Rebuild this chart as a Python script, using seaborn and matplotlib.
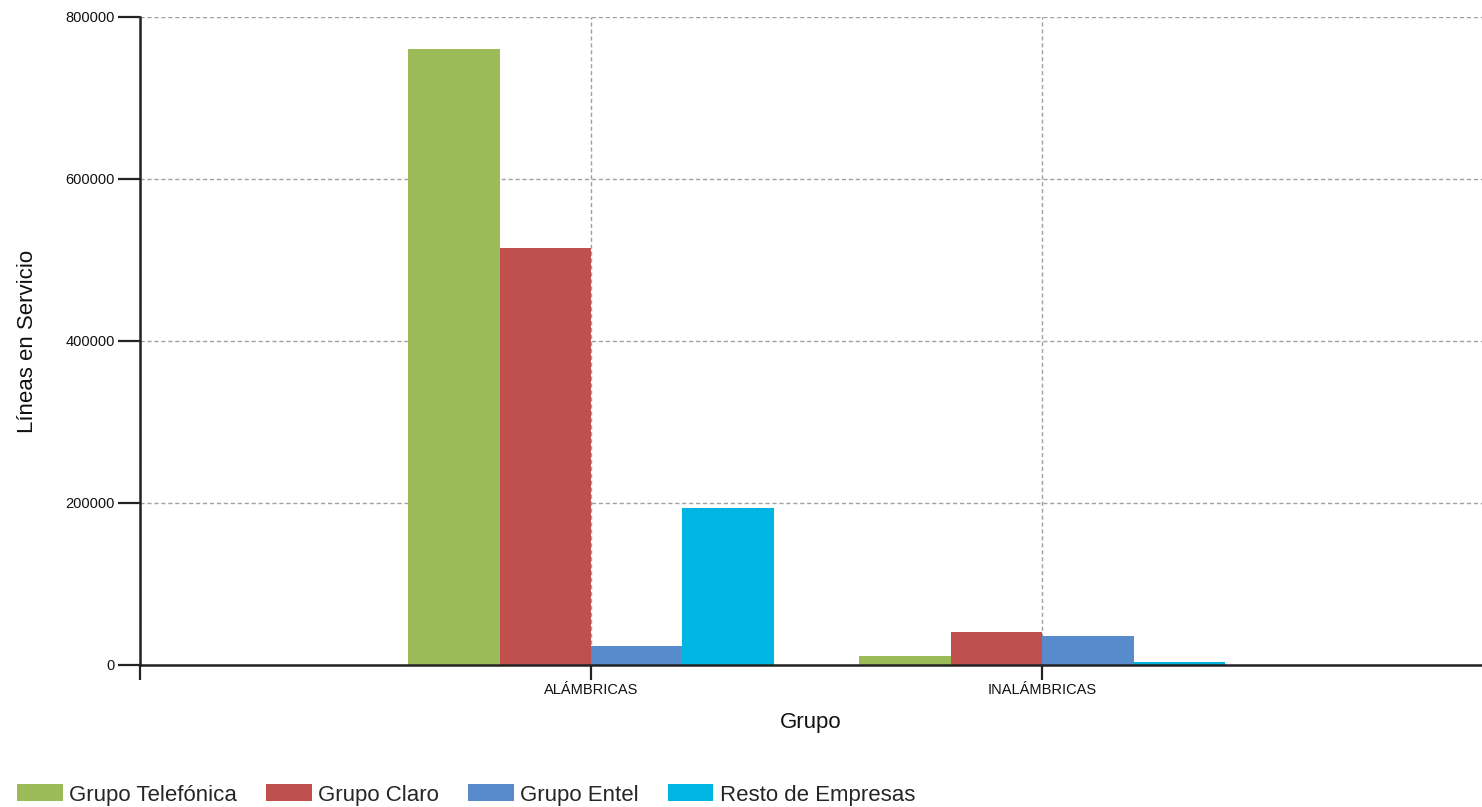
import pandas as pd
import seaborn as sns
import matplotlib.pyplot as plt

grupos = ["ALÁMBRICAS", "INALÁMBRICAS"]
empresas = ["Grupo Telefónica", "Grupo Claro", "Grupo Entel", "Resto de Empresas"]
alambricas = [761000, 514500, 23200, 193800]
inalambricas = [10800, 40900, 36400, 3500]
colores = ["#9BBB59", "#C0504D", "#588BCC", "#00B5E2"]
yticks = [0, 200000, 400000, 600000, 800000]

df = pd.DataFrame({
    "Grupo": [grupos[0]] * 4 + [grupos[1]] * 4,
    "Empresa": empresas + empresas,
    "Lineas": alambricas + inalambricas,
})

sns.set_theme(style="white")
plt.rcParams["font.family"] = ["Liberation Sans", "DejaVu Sans"]

fig = plt.figure(figsize=(14.82, 8.07), dpi=100)
ax = fig.add_axes([140 / 1482, 1 - 665 / 807, 1 - 140 / 1482, (665 - 17) / 807])

sns.barplot(
    data=df, x="Grupo", y="Lineas", hue="Empresa",
    order=grupos, hue_order=empresas, palette=colores,
    width=0.81, linewidth=0, saturation=1, ax=ax, legend=True,
)

ax.set_xlim(-1.0, 1.975)
ax.set_ylim(0, 800000)
ax.set_xticks([-1, 0, 1])
ax.set_xticklabels([""] + grupos, fontsize=10.5, color="#111111")
ax.set_yticks(yticks)
ax.set_yticklabels([str(v) for v in yticks], fontsize=10.5, color="#111111")
ax.tick_params(axis="x", direction="out", length=11, width=1.6, color="#222222", pad=2, bottom=True)
ax.tick_params(axis="y", direction="out", length=16, width=1.6, color="#222222", pad=2, left=True)

ax.grid(True, linestyle=(0, (3, 2)), color="#a0a0a0", linewidth=1)
ax.set_axisbelow(True)

for side in ["top", "right"]:
    ax.spines[side].set_visible(False)
for side in ["left", "bottom"]:
    ax.spines[side].set_color("#222222")
    ax.spines[side].set_linewidth(1.8)

ax.set_xlabel("Grupo", fontsize=16, labelpad=11, color="#111111")
ax.set_ylabel("Líneas en Servicio", fontsize=16, color="#111111")
ax.yaxis.set_label_coords(-0.076, 0.5)

handles, labels = ax.get_legend_handles_labels()
ax.get_legend().remove()
fig.legend(
    handles, labels, loc="center left",
    bbox_to_anchor=(17 / 1482, 1 - 795 / 807),
    ncol=4, frameon=False, fontsize=16,
    handlelength=2.05, handleheight=0.8, handletextpad=0.3,
    columnspacing=1.3, borderpad=0, borderaxespad=0,
)

fig.savefig("out.png", dpi=100)
